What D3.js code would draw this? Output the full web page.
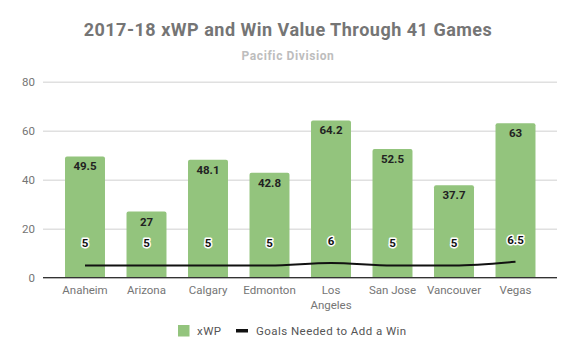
<!DOCTYPE html>
<html><head><meta charset="utf-8">
<script src="https://cdn.jsdelivr.net/npm/d3@7"></script>
<style>body{margin:0;background:#fff;font-family:Roboto,sans-serif}</style>
</head><body>
<svg id="c" width="575" height="356"></svg>
<script>
const teams = ["Anaheim","Arizona","Calgary","Edmonton","Los Angeles","San Jose","Vancouver","Vegas"];
const xwp = [49.5,27,48.1,42.8,64.2,52.5,37.7,63];
const goals = [5,5,5,5,6,5,5,6.5];
const yTicks = [0,20,40,60,80];

const svg = d3.select("#c");
const gridL = 43, gridR = 557;
const x = d3.scaleBand().domain(teams).range([54.25,546.25]).paddingInner(0.35).paddingOuter(0.175);
const y = d3.scaleLinear().domain([0,80]).range([277.7,81.7]);

// grid
const yAxis = d3.axisLeft(y).tickValues(yTicks).tickSize(-(gridR-gridL)).tickPadding(8);
const ga = svg.append("g").attr("transform",`translate(${gridL},0)`).call(yAxis);
ga.select(".domain").remove();
ga.selectAll(".tick line").attr("stroke","#e0e0e0").attr("stroke-width",1.5);
ga.selectAll(".tick text").attr("fill","#757575").attr("font-size",11.5).attr("font-family","Roboto");

// bars
const bw = x.bandwidth();
svg.append("g").selectAll("path").data(teams).join("path")
  .attr("fill","#93c47d")
  .attr("d",(d,i)=>{
    const x0=x(d), y0=y(xwp[i]), y1=y(0), r=2;
    return `M${x0},${y1}V${y0+r}Q${x0},${y0} ${x0+r},${y0}H${x0+bw-r}Q${x0+bw},${y0} ${x0+bw},${y0+r}V${y1}Z`;
  });

// baseline
svg.append("line").attr("x1",gridL).attr("x2",gridR).attr("y1",y(0)).attr("y2",y(0)).attr("stroke","#333").attr("stroke-width",1.3);

// bar labels
svg.append("g").selectAll("text").data(teams).join("text")
  .attr("x",d=>x(d)+bw/2).attr("y",(d,i)=>y(xwp[i])+14)
  .attr("text-anchor","middle").attr("font-size",11.5).attr("font-weight","bold").attr("fill","#222")
  .text((d,i)=>xwp[i]);

// line
const line = d3.line().x((d,i)=>x(teams[i])+bw/2).y(d=>y(d)).curve(d3.curveMonotoneX);
svg.append("path").datum(goals).attr("d",line).attr("fill","none").attr("stroke","#111").attr("stroke-width",2);

// line labels
svg.append("g").selectAll("text").data(goals).join("text")
  .attr("x",(d,i)=>x(teams[i])+bw/2).attr("y",d=>y(d)-18)
  .attr("text-anchor","middle").attr("font-size",11.5).attr("font-weight","bold")
  .attr("stroke","#fff").attr("stroke-width",3).attr("stroke-linejoin","round").attr("paint-order","stroke").attr("fill","#111")
  .text(d=>d);

// x labels
const xl = svg.append("g").selectAll("text").data(teams).join("text")
  .attr("x",d=>x(d)+bw/2).attr("y",294)
  .attr("text-anchor","middle").attr("font-size",11.5).attr("fill","#757575");
xl.each(function(d){
  const t=d3.select(this);
  const parts = d==="Los Angeles" ? ["Los","Angeles"] : [d];
  parts.forEach((p,k)=>t.append("tspan").attr("x",x(d)+bw/2).attr("dy",k?14.5:0).text(p));
});

// title
svg.append("text").attr("x",288).attr("y",36).attr("text-anchor","middle").attr("font-size",18).attr("letter-spacing",0.5).attr("font-weight","bold").attr("fill","#757575").text("2017-18 xWP and Win Value Through 41 Games");
svg.append("text").attr("x",288).attr("y",59.5).attr("text-anchor","middle").attr("font-size",12).attr("letter-spacing",0.6).attr("font-weight","bold").attr("fill","#bdbdbd").text("Pacific Division");

// legend
const lg = svg.append("g");
lg.append("rect").attr("x",178).attr("y",325).attr("width",11.5).attr("height",11.5).attr("fill","#93c47d");
lg.append("text").attr("x",197).attr("y",335).attr("font-size",11.5).attr("letter-spacing",0.45).attr("fill","#555").text("xWP");
lg.append("rect").attr("x",236).attr("y",329).attr("width",12).attr("height",3.5).attr("fill","#111");
lg.append("text").attr("x",256).attr("y",335).attr("font-size",11.5).attr("letter-spacing",0.45).attr("fill","#555").text("Goals Needed to Add a Win");
</script>
</body></html>
